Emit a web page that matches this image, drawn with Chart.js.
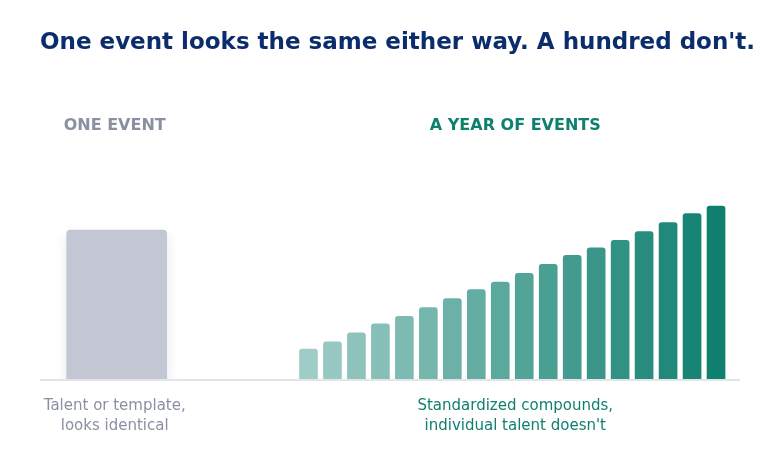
<!DOCTYPE html>
<html>
<head>
<meta charset="utf-8">
<script src="https://cdn.jsdelivr.net/npm/chart.js@4"></script>
<style>
  html, body { margin: 0; padding: 0; background: #ffffff; }
  #wrap { width: 780px; height: 460px; }
</style>
</head>
<body>
<div id="wrap"><canvas id="chart" width="780" height="460"></canvas></div>
<script>
// one event vs. a year of events (values in "one event = 100" units)
const oneEventX = [3];
const oneEventValues = [100];
const yearEventsX = [11, 12, 13, 14, 15, 16, 17, 18, 19, 20, 21, 22, 23, 24, 25, 26, 27, 28];
const yearEventsValues = [20, 25, 31, 37, 42, 48, 54, 60, 65, 71, 77, 83, 88, 93, 99, 105, 111, 116];

const title = "One event looks the same either way. A hundred don't.";
const headers = ["ONE EVENT", "A YEAR OF EVENTS"];
const captions = [
  ["Talent or template,", "looks identical"],
  ["Standardized compounds,", "individual talent doesn't"]
];

const FONT = '"DejaVu Sans", Verdana, sans-serif';
const GRAY_TEXT = "#8a90a2";
const TEAL_TEXT = "#0f7f6e";

// light -> dark teal, blended on white so bars stay opaque
function tealShade(i, n) {
  const a = 0.4 + 0.6 * i / (n - 1);
  const base = [15, 128, 112];
  const c = base.map(v => Math.round(255 - a * (255 - v)));
  return "rgb(" + c.join(",") + ")";
}

const baselineAndLabels = {
  id: "baselineAndLabels",
  beforeDatasetsDraw(chart) {
    const { ctx, chartArea } = chart;
    ctx.save();
    ctx.fillStyle = "#e2e4ea";
    ctx.fillRect(chartArea.left, chartArea.bottom, chartArea.right - chartArea.left, 2);
    ctx.restore();
  },
  beforeDatasetDraw(chart, args) {
    if (args.index === 0) {
      const ctx = chart.ctx;
      ctx.save();
      ctx.shadowColor = "rgba(60, 70, 100, 0.13)";
      ctx.shadowBlur = 12;
      ctx.shadowOffsetY = 5;
    }
  },
  afterDatasetDraw(chart, args) {
    if (args.index === 0) chart.ctx.restore();
  },
  afterDraw(chart) {
    const { ctx, scales, chartArea } = chart;
    const x = scales.x;
    const leftX = x.getPixelForValue(oneEventX[0]) - 2;
    const rightX = (x.getPixelForValue(yearEventsX[0]) + x.getPixelForValue(yearEventsX[yearEventsX.length - 1])) / 2 + 3;
    const cols = [[leftX, GRAY_TEXT], [rightX, TEAL_TEXT]];
    ctx.save();
    ctx.textBaseline = "alphabetic";
    // title, no max width so it can run past the plot edge like the original
    ctx.textAlign = "left";
    ctx.fillStyle = "#0c2d6b";
    ctx.font = "bold 23px " + FONT;
    ctx.fillText(title, chartArea.left, 49);

    ctx.textAlign = "center";
    cols.forEach(([cx, color], i) => {
      ctx.fillStyle = color;
      ctx.font = "bold 16px " + FONT;
      ctx.fillText(headers[i], cx, 130);
      ctx.font = "15px " + FONT;
      captions[i].forEach((line, j) => ctx.fillText(line, cx, 409.5 + j * 20.5));
    });
    ctx.restore();
  }
};

new Chart(document.getElementById("chart"), {
  type: "bar",
  data: {
    datasets: [
      {
        label: "One event",
        data: oneEventX.map((x, i) => ({ x, y: oneEventValues[i] })),
        backgroundColor: "#c3c7d4",
        borderRadius: 4,
        barThickness: 100,
        grouped: false
      },
      {
        label: "A year of events",
        data: yearEventsX.map((x, i) => ({ x, y: yearEventsValues[i] })),
        backgroundColor: yearEventsX.map((_, i) => tealShade(i, yearEventsX.length)),
        borderRadius: 3,
        barThickness: 18,
        grouped: false
      }
    ]
  },
  options: {
    responsive: false,
    animation: false,
    layout: { padding: { top: 185.3, left: 40, right: 40, bottom: 81 } },
    scales: {
      x: { type: "linear", min: -0.2, max: 29, offset: false, display: false },
      y: { min: 0, max: 130, display: false }
    },
    plugins: {
      legend: { display: false },
      tooltip: { enabled: false },
      title: { display: false }
    }
  },
  plugins: [baselineAndLabels]
});
</script>
</body>
</html>
